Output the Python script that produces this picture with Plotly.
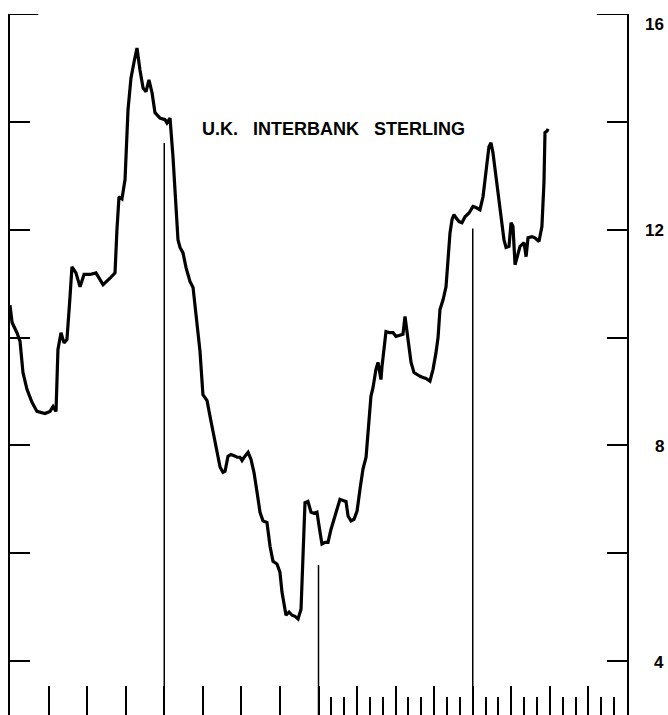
import plotly.graph_objects as go

# Months since January 1976 (x) and UK interbank sterling rate, percent (y)
months = [0.00, 0.16, 0.54, 0.78, 1.01, 1.32, 1.71, 2.10, 2.72, 3.11, 3.35, 3.58, 3.73, 3.97,
          4.20, 4.43, 4.67, 4.82, 5.13, 5.45, 5.76, 6.22, 6.69, 7.24, 7.78, 8.17, 8.32, 8.48,
          8.71, 8.95, 9.18, 9.41, 9.65, 9.88, 10.11, 10.35, 10.58, 10.81, 11.05, 11.28, 11.67,
          12.06, 12.21, 12.45, 12.68, 12.91, 13.07, 13.23, 13.46, 13.69, 14.00, 14.24, 14.47,
          14.78, 15.01, 15.33, 15.56, 15.87, 16.10, 16.34, 16.57, 16.73, 16.96, 17.19, 17.43,
          17.66, 17.89, 18.05, 18.28, 18.52, 18.75, 18.98, 19.22, 19.45, 19.68, 19.99, 20.23,
          20.46, 20.77, 21.00, 21.16, 21.32, 21.47, 21.71, 21.94, 22.17, 22.41, 22.64, 22.72,
          22.87, 22.95, 23.18, 23.42, 23.65, 23.88, 24.12, 24.27, 24.51, 24.74, 24.97, 25.21,
          25.44, 25.67, 25.91, 26.14, 26.30, 26.53, 26.76, 27.00, 27.23, 27.46, 27.70, 27.85,
          28.08, 28.24, 28.47, 28.63, 28.86, 28.94, 29.10, 29.25, 29.56, 29.80, 30.03, 30.34,
          30.57, 30.73, 30.96, 31.20, 31.43, 31.66, 31.90, 32.13, 32.36, 32.67, 32.91, 33.14,
          33.30, 33.45, 33.69, 33.92, 34.08, 34.23, 34.39, 34.54, 34.70, 34.93, 35.16, 35.40,
          35.71, 36.02, 36.25, 36.56, 36.80, 37.03, 37.26, 37.42, 37.57, 37.81, 38.12, 38.28,
          38.43, 38.59, 38.82, 38.98, 39.13, 39.29, 39.44, 39.68, 39.99, 40.15, 40.30, 40.61,
          40.84, 41.15, 41.38, 41.54, 41.62, 41.78, 41.86]
rate = [10.60, 10.28, 10.09, 9.93, 9.35, 9.04, 8.80, 8.63, 8.59, 8.63, 8.72, 8.63, 9.78, 10.09,
        9.90, 9.96, 10.76, 11.31, 11.20, 10.94, 11.17, 11.17, 11.20, 10.98, 11.10, 11.20, 12.00, 12.61,
        12.57, 12.93, 14.22, 14.81, 15.11, 15.37, 14.96, 14.63, 14.56, 14.78, 14.54, 14.17, 14.07,
        14.04, 13.98, 14.07, 13.35, 12.56, 11.81, 11.67, 11.57, 11.30, 11.04, 10.93, 10.46,
        9.75, 8.94, 8.83, 8.54, 8.17, 7.90, 7.60, 7.50, 7.52, 7.80, 7.83, 7.81,
        7.78, 7.78, 7.72, 7.80, 7.87, 7.74, 7.50, 7.13, 6.76, 6.60, 6.57, 6.13,
        5.85, 5.80, 5.65, 5.28, 5.02, 4.85, 4.91, 4.85, 4.83, 4.78, 4.96, 5.46,
        6.44, 6.94, 6.96, 6.76, 6.74, 6.76, 6.39, 6.17, 6.20, 6.20, 6.44, 6.63,
        6.78, 7.00, 6.98, 6.96, 6.69, 6.60, 6.63, 6.78, 7.19, 7.56, 7.78, 8.30,
        8.91, 9.07, 9.41, 9.54, 9.22, 9.46, 9.83, 10.11, 10.09, 10.09, 10.02, 10.05,
        10.06, 10.39, 9.91, 9.54, 9.35, 9.31, 9.28, 9.26, 9.24, 9.19, 9.41, 9.72,
        10.00, 10.52, 10.70, 10.94, 11.44, 11.94, 12.19, 12.28, 12.22, 12.15, 12.13, 12.24,
        12.31, 12.43, 12.41, 12.37, 12.61, 13.06, 13.54, 13.61, 13.43, 12.98, 12.43, 12.13,
        11.81, 11.67, 11.69, 12.13, 12.06, 11.35, 11.50, 11.69, 11.76, 11.50, 11.85, 11.87,
        11.85, 11.78, 12.06, 12.87, 13.80, 13.83, 13.87]

# Year-boundary marker lines (month, top value)
marker_months = [12, 24, 36]
marker_tops = [13.61, 5.78, 12.02]

# Axis ticks and labels
y_tick_vals = [4, 6, 8, 10, 12, 14]
y_label_vals = [16, 12, 8, 4]
y_label_text = ["16", "12", "8", "4"]
quarter_ticks = [3, 6, 9, 12, 15, 18, 21, 24, 27, 30, 33, 36, 39, 42, 45]
month_ticks = [25, 26, 28, 29, 31, 32, 34, 35, 37, 38, 40, 41, 43, 44, 46, 47]
title_text = "U.K.\u00a0\u00a0\u00a0INTERBANK\u00a0\u00a0\u00a0STERLING"

Y_MIN, Y_MAX = 3, 16
X_MIN, X_MAX = 0, 48

fig = go.Figure()
fig.add_trace(go.Scatter(x=months, y=rate, mode="lines",
                         line=dict(color="black", width=3.2), hoverinfo="skip",
                         showlegend=False))

shapes = []
for m, top in zip(marker_months, marker_tops):
    shapes.append(dict(type="line", xref="x", yref="y", x0=m, x1=m, y0=top, y1=Y_MIN,
                       line=dict(color="black", width=1.5)))
# longer top ticks at 16
shapes.append(dict(type="line", xref="x", yref="y", x0=X_MIN, x1=X_MIN + 2.2, y0=16, y1=16,
                   line=dict(color="black", width=2)))
shapes.append(dict(type="line", xref="x", yref="y", x0=X_MAX - 2.35, x1=X_MAX, y0=16, y1=16,
                   line=dict(color="black", width=2)))

annotations = [dict(text=title_text, xref="paper", yref="paper", x=0.525, y=1 - (129 - 14) / 701,
                    xanchor="center", yanchor="middle", showarrow=False,
                    font=dict(family="Liberation Sans", size=18, color="black", weight="bold"))]
for v, t in zip(y_label_vals, y_label_text):
    annotations.append(dict(text=t, xref="paper", yref="y", x=1, y=v, xanchor="right",
                            yanchor="middle", xshift=39, yshift=(-10 if v == 16 else -1),
                            showarrow=False,
                            font=dict(family="Liberation Sans", size=17, color="black",
                                      weight="bold")))

fig.update_layout(
    width=668, height=715,
    margin=dict(l=10, r=41, t=14, b=0, autoexpand=False),
    paper_bgcolor="white", plot_bgcolor="white",
    shapes=shapes, annotations=annotations,
    xaxis=dict(range=[X_MIN, X_MAX], showgrid=False, zeroline=False, showline=False,
               showticklabels=False, ticks="inside", tickmode="array", tickvals=quarter_ticks,
               ticklen=29, tickwidth=2, tickcolor="black",
               minor=dict(tickmode="array", tickvals=month_ticks, ticks="inside",
                          ticklen=18, tickwidth=2, tickcolor="black", showgrid=False)),
    yaxis=dict(range=[Y_MIN, Y_MAX], showgrid=False, zeroline=False, showline=True,
               linecolor="black", linewidth=2, mirror="allticks", showticklabels=False,
               ticks="inside", tickmode="array", tickvals=y_tick_vals, ticklen=20,
               tickwidth=2, tickcolor="black"),
)

fig.write_html("out.html", config={"displayModeBar": False},
               post_script="document.body.style.margin='0';document.body.style.overflow='hidden';")
